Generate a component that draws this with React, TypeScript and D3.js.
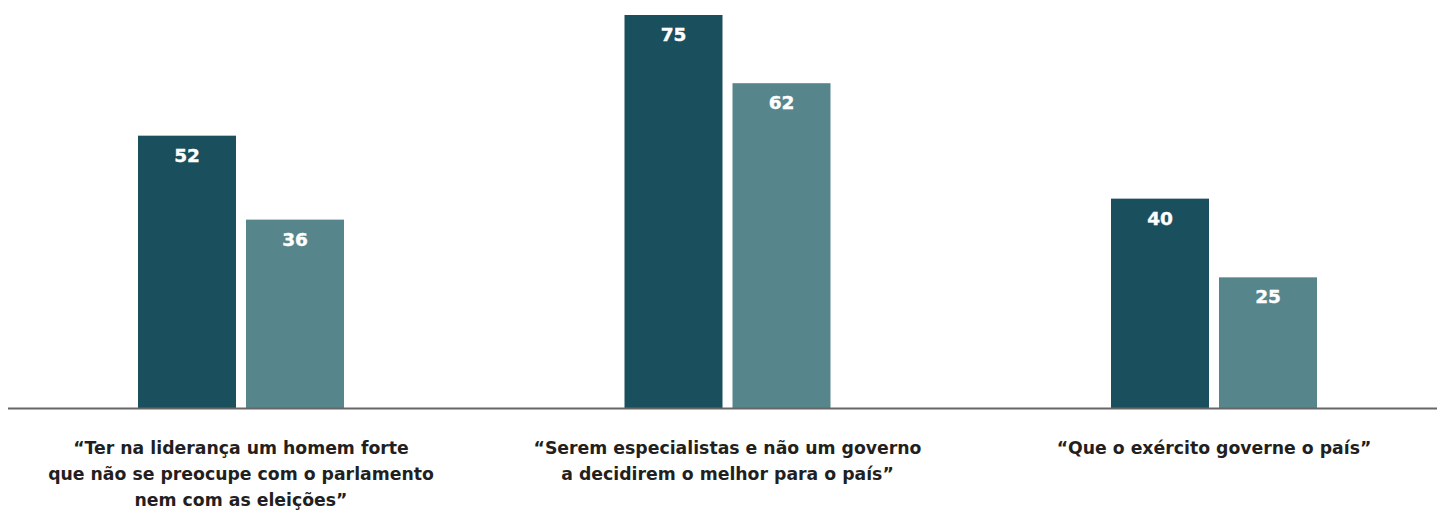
import React from "react";
import * as d3 from "d3";

const categories = [
  ["“Ter na liderança um homem forte", "que não se preocupe com o parlamento", "nem com as eleições”"],
  ["“Serem especialistas e não um governo", "a decidirem o melhor para o país”"],
  ["“Que o exército governe o país”"],
];
const categoryKeys = ["c1", "c2", "c3"];
const seriesKeys = ["s1", "s2"];
const seriesA = [52, 75, 40];
const seriesB = [36, 62, 25];
const colors = ["#1A4F5D", "#56868C"];

const W = 1437;
const H = 511;
const baseY = 408.5;

export default function App() {
  const x0 = d3.scalePoint<string>().domain(categoryKeys).range([241, 1214]);
  const x1 = d3.scaleBand<string>().domain(seriesKeys).range([-103, 103]).paddingInner(0.0926).paddingOuter(0);
  const y = d3.scaleLinear().domain([0, 75]).range([baseY, 15]);
  const series = [seriesA, seriesB];
  return (
    <svg width={W} height={H} style={{ position: "absolute", left: 0, top: 0, display: "block" }}>
      <rect x={0} y={0} width={W} height={H} fill="#fff" />
      {categoryKeys.map((c, i) => (
        <g key={c} transform={`translate(${x0(c)},0)`}>
          {seriesKeys.map((s, j) => {
            const v = series[j][i];
            const bx = x1(s)!;
            const bw = x1.bandwidth();
            return (
              <g key={s}>
                <rect x={bx} y={y(v)} width={bw} height={baseY - y(v)} fill={colors[j]} />
                <text
                  x={bx + bw / 2}
                  y={y(v) + 26}
                  textAnchor="middle"
                  fill="#fff"
                  fontFamily="'DejaVu Sans', sans-serif"
                  fontWeight="bold"
                  fontSize={18.5}
                  stroke="#fff"
                  strokeWidth={0.4}
                >
                  {v}
                </text>
              </g>
            );
          })}
          {categories[i].map((line, k) => (
            <text
              key={k}
              x={0}
              y={454 + k * 26}
              textAnchor="middle"
              fill="#231F20"
              fontFamily="'DejaVu Sans', sans-serif"
              fontWeight="bold"
              fontSize={17.3}
            >
              {line}
            </text>
          ))}
        </g>
      ))}
      <line x1={8} x2={W} y1={baseY} y2={baseY} stroke="#666" strokeWidth={2} />
    </svg>
  );
}
